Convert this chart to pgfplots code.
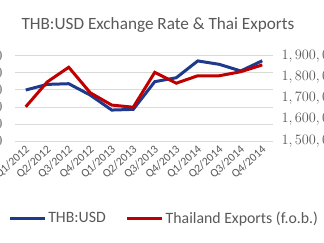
\documentclass[border=0pt]{standalone}
\usepackage{fontspec}
\setmainfont{Carlito}
\usepackage{pgfplots}
\pgfplotsset{compat=1.18}
\definecolor{thbblue}{HTML}{1F3A8C}
\definecolor{expred}{HTML}{C00000}
\definecolor{txtgray}{HTML}{595959}
\definecolor{gridgray}{HTML}{D9D9D9}
\begin{document}
\begin{tikzpicture}
\fill[white] (-15bp,-102bp) rectangle (309bp,141bp);
\begin{axis}[
  scale only axis, width=258bp, height=85bp,
  xmin=-0.5, xmax=11.5, ymin=28, ymax=33,
  xtick={0,...,11},
  xticklabels={Q1/2012,Q2/2012,Q3/2012,Q4/2012,Q1/2013,Q2/2013,Q3/2013,Q4/2013,Q1/2014,Q2/2014,Q3/2014,Q4/2014},
  xticklabel style={rotate=42, anchor=east, yshift=-7bp, font=\fontsize{11.6bp}{13bp}\selectfont, text=txtgray},
  ytick={28,...,33},
  yticklabel style={xshift=-9bp, text=txtgray, font=\fontsize{13.5bp}{15bp}\selectfont},
  /pgf/number format/.cd, fixed, fixed zerofill, precision=2, /pgfplots/.cd,
  ymajorgrids, grid style={gridgray, line width=1bp},
  axis line style={draw=none}, major tick length=0,
]
\addplot[thbblue, line width=3bp] coordinates {
 (0,31.00) (1,31.33) (2,31.37) (3,30.70) (4,29.82) (5,29.86)
 (6,31.49) (7,31.72) (8,32.71) (9,32.51) (10,32.12) (11,32.72)};
\end{axis}
\begin{axis}[
  scale only axis, width=258bp, height=85bp,
  xmin=-0.5, xmax=11.5, ymin=1500000, ymax=1900000,
  axis x line=none, axis y line*=right,
  ytick={1500000,1600000,1700000,1800000,1900000},
  scaled y ticks=false,
  yticklabel style={xshift=5bp, text=txtgray, font=\fontsize{13.5bp}{15bp}\selectfont, /pgf/number format/.cd, fixed, 1000 sep={,}},
  axis line style={draw=none}, major tick length=0,
  legend style={draw=none, fill=none, at={(0.578,-0.91)}, anchor=center, legend columns=2,
    font=\fontsize{15.8bp}{18bp}\selectfont, text=txtgray,
    /tikz/every even column/.append style={column sep=18bp}},
  legend image code/.code={\draw[#1] (0bp,0bp) -- (35bp,0bp);},
]
\addlegendimage{thbblue, line width=3bp}
\addlegendentry{THB:USD}
\addplot[expred, line width=3bp] coordinates {
 (0,1661000) (1,1778000) (2,1847000) (3,1727000) (4,1669000) (5,1659000)
 (6,1823000) (7,1772000) (8,1807000) (9,1807000) (10,1826000) (11,1858000)};
\addlegendentry{Thailand Exports (f.o.b.)}
\end{axis}
\node[anchor=base, text=txtgray, font=\fontsize{17.2bp}{20bp}\selectfont] at (143bp,111bp) {THB:USD Exchange Rate \& Thai Exports};
\pgfresetboundingbox
\path[use as bounding box] (-15bp,-102bp) rectangle (309bp,141bp);
\end{tikzpicture}
\end{document}
